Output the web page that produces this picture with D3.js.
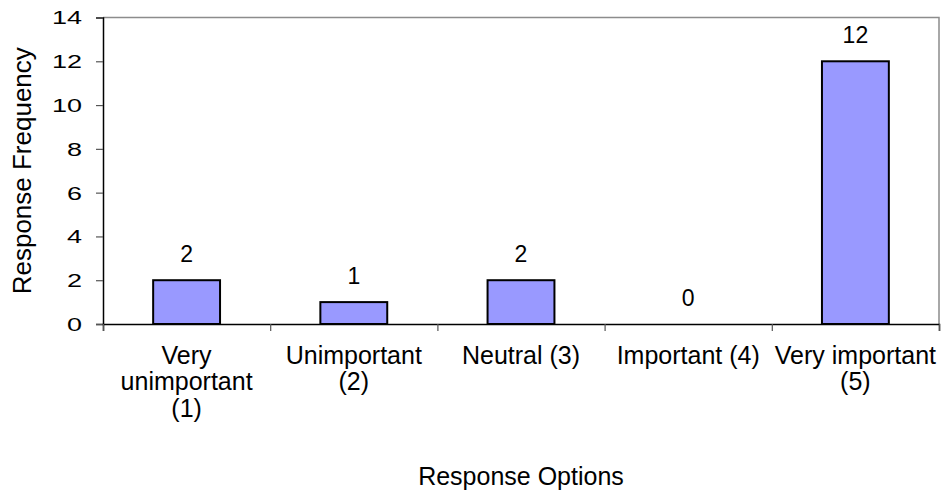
<!DOCTYPE html>
<html>
<head>
<meta charset="utf-8">
<script src="https://cdn.jsdelivr.net/npm/d3@7"></script>
<style>
  html, body { margin: 0; padding: 0; background: #fff; }
  svg { display: block; font-family: "Liberation Sans", Arial, sans-serif; }
</style>
</head>
<body>
<svg id="chart" width="942" height="494"></svg>
<script>
// Survey responses: how important the item was rated
const categories = [
  ["Very", "unimportant", "(1)"],
  ["Unimportant", "(2)"],
  ["Neutral (3)"],
  ["Important (4)"],
  ["Very important", "(5)"]
];
const frequencies = [2, 1, 2, 0, 12];
const yTicks = [0, 2, 4, 6, 8, 10, 12, 14];
const xTitle = "Response Options";
const yTitle = "Response Frequency";

const svg = d3.select("#chart");
const plot = { left: 103, right: 939, top: 17.5, bottom: 324 };

const x = d3.scaleBand()
  .domain(d3.range(categories.length))
  .range([plot.left, plot.right])
  .paddingInner(0.6)
  .paddingOuter(0.3);

const xEdges = d3.scaleLinear()
  .domain([0, categories.length])
  .range([plot.left, plot.right]);

const y = d3.scaleLinear()
  .domain([0, 14])
  .range([plot.bottom, plot.top]);

// plot area frame (top and right)
svg.append("path")
  .attr("d", `M${plot.left},${plot.top}H${plot.right}V${plot.bottom}`)
  .attr("fill", "none")
  .attr("stroke", "#8c8c8c")
  .attr("stroke-width", 1.5);

// bars
svg.append("g").selectAll("rect")
  .data(frequencies)
  .join("rect")
  .attr("x", (d, i) => x(i))
  .attr("width", x.bandwidth())
  .attr("y", d => y(d))
  .attr("height", d => y(0) - y(d))
  .attr("fill", "#9999FF")
  .attr("stroke", d => d > 0 ? "#000" : "none")
  .attr("stroke-width", 2);

// value labels
svg.append("g").selectAll("text")
  .data(frequencies)
  .join("text")
  .attr("x", (d, i) => x(i) + x.bandwidth() / 2)
  .attr("y", d => y(d) - 18)
  .attr("text-anchor", "middle")
  .attr("font-size", 23)
  .attr("fill", "#000")
  .text(d => d);

// y axis
const yAxis = svg.append("g")
  .attr("transform", `translate(${plot.left},0)`)
  .call(d3.axisLeft(y).tickValues(yTicks).tickSize(7));
yAxis.select(".domain").attr("stroke", "#000").attr("stroke-width", 1.5);
yAxis.selectAll(".tick line").attr("stroke", "#555").attr("stroke-width", 1.2);
// tick numbers are drawn wide: horizontally stretched glyphs
yAxis.selectAll(".tick text")
  .attr("x", 0)
  .attr("dy", "0.36em")
  .attr("transform", "translate(-21,0) scale(1.5,1)")
  .attr("font-size", 18)
  .attr("font-family", "Liberation Sans, Arial, sans-serif")
  .attr("fill", "#000");

// x axis with category boundary ticks
const xAxis = svg.append("g")
  .attr("transform", `translate(0,${plot.bottom})`)
  .call(d3.axisBottom(xEdges).tickValues(d3.range(categories.length + 1)).tickSize(7).tickFormat(""));
xAxis.select(".domain").attr("stroke", "#000").attr("stroke-width", 1.5);
xAxis.selectAll(".tick line").attr("stroke", "#555").attr("stroke-width", 1.2);

// category labels (multi-line)
const catG = svg.append("g").selectAll("text")
  .data(categories)
  .join("text")
  .attr("x", (d, i) => x(i) + x.bandwidth() / 2)
  .attr("y", 363.5)
  .attr("text-anchor", "middle")
  .attr("font-size", 25)
  .attr("fill", "#000");
catG.selectAll("tspan")
  .data(d => d)
  .join("tspan")
  .attr("x", function () { return d3.select(this.parentNode).attr("x"); })
  .attr("dy", (d, i) => i === 0 ? 0 : 26.5)
  .text(d => d);

// axis titles
svg.append("text")
  .attr("x", (plot.left + plot.right) / 2)
  .attr("y", 484.5)
  .attr("text-anchor", "middle")
  .attr("font-size", 25)
  .attr("fill", "#000")
  .text(xTitle);

svg.append("text")
  .attr("transform", `translate(31,${(plot.top + plot.bottom) / 2}) rotate(-90)`)
  .attr("text-anchor", "middle")
  .attr("font-size", 26)
  .attr("fill", "#000")
  .text(yTitle);
</script>
</body>
</html>
